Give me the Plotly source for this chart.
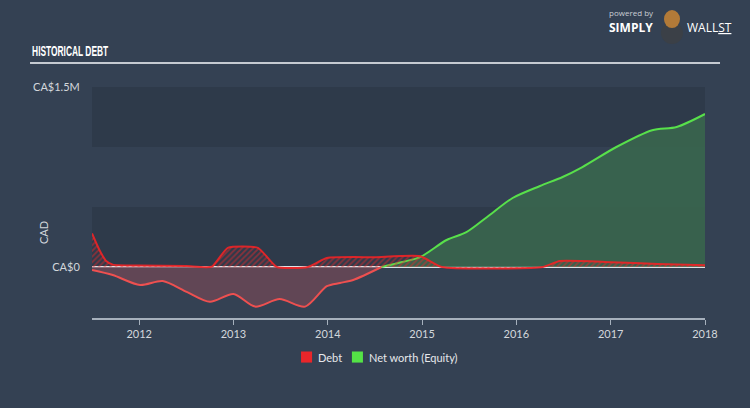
import plotly.graph_objects as go

# ---- data (values in CAD) ----
debt_years = [2011.5, 2011.58, 2011.65, 2011.72, 2012.0, 2012.5, 2012.77, 2012.94, 2013.26, 2013.46,
              2013.79, 2013.99, 2014.5, 2014.98, 2015.21, 2016.28, 2016.46, 2017.0, 2017.5, 2018.0]
debt_values = [280000, 140000, 50000, 20000, 12000, 8000, 3000, 160000, 160000, 0,
               0, 75000, 82000, 90000, 0, 0, 50000, 40000, 25000, 15000]

equity_years = [2011.5, 2011.72, 2012.01, 2012.25, 2012.51, 2012.75, 2013.0, 2013.23, 2013.49, 2013.76,
                2013.99, 2014.13, 2014.27, 2014.57, 2014.79, 2014.98, 2015.26, 2015.47, 2015.69, 2015.96,
                2016.25, 2016.49, 2016.70, 2017.06, 2017.44, 2017.70, 2018.0]
equity_values = [-25000, -67000, -150000, -117000, -210000, -290000, -225000, -330000, -267000, -330000,
                 -160000, -133000, -108000, 0, 42000, 83000, 225000, 290000, 417000, 575000,
                 675000, 750000, 833000, 1000000, 1140000, 1167000, 1275000]

x_tick_vals = [2012, 2013, 2014, 2015, 2016, 2017, 2018]
x_tick_text = ["2012", "2013", "2014", "2015", "2016", "2017", "2018"]
y_tick_vals = [0, 1500000]
y_tick_text = ["CA$0", "CA$1.5M"]

BG = "#344153"
BAND = "#2e3a4a"
TXT = "#d3d7dc"
FONT = "Lato, Open Sans, sans-serif"

# split equity at zero crossing
zi = equity_values.index(0)
neg_x, neg_y = equity_years[:zi + 1], equity_values[:zi + 1]
pos_x, pos_y = equity_years[zi:], equity_values[zi:]

fig = go.Figure()

fig.add_trace(go.Scatter(
    x=neg_x, y=neg_y, mode="lines", fill="tozeroy",
    fillcolor="rgba(112,72,86,0.75)",
    line=dict(color="#ee5050", width=2, shape="spline", smoothing=0.8),
    showlegend=False, hoverinfo="skip"))
fig.add_trace(go.Scatter(
    x=pos_x, y=pos_y, mode="lines", fill="tozeroy",
    fillcolor="rgba(58,104,78,0.85)",
    line=dict(color="#58e04b", width=2, shape="spline", smoothing=0.8),
    showlegend=False, hoverinfo="skip"))
fig.add_trace(go.Scatter(
    x=debt_years, y=debt_values, mode="lines", fill="tozeroy",
    fillcolor="rgba(0,0,0,0)",
    fillpattern=dict(shape="/", fgcolor="rgba(236,40,42,0.95)", size=4, solidity=0.45),
    line=dict(color="rgba(240,36,38,0.9)", width=2, shape="spline", smoothing=0.5),
    showlegend=False, hoverinfo="skip"))

shapes = [
    dict(type="rect", xref="paper", yref="y", x0=0, x1=1, y0=0, y1=500000,
         fillcolor=BAND, line=dict(width=0), layer="below"),
    dict(type="rect", xref="paper", yref="y", x0=0, x1=1, y0=1000000, y1=1500000,
         fillcolor=BAND, line=dict(width=0), layer="below"),
    # title underline
    dict(type="line", xref="paper", yref="paper", x0=-0.1011, x1=1.0245, y0=1.104, y1=1.104,
         line=dict(color="#c5cad1", width=2)),
    # legend squares
    dict(type="rect", xref="paper", yref="paper", x0=0.341, x1=0.359, y0=-0.145, y1=-0.193,
         fillcolor="#e8262a", line=dict(width=0)),
    dict(type="rect", xref="paper", yref="paper", x0=0.424, x1=0.442, y0=-0.145, y1=-0.193,
         fillcolor="#54e346", line=dict(width=0)),
    # logo mascot (simplified)
    dict(type="circle", xref="paper", yref="paper", x0=0.9282, x1=0.9641, y0=1.186, y1=1.281,
         fillcolor="#3b4047", line=dict(width=0)),
    dict(type="circle", xref="paper", yref="paper", x0=0.9331, x1=0.9592, y0=1.255, y1=1.333,
         fillcolor="#b27a38", line=dict(width=0)),
]

annotations = [
    dict(text="<b>HISTORICAL DEBT</b>", xref="paper", yref="paper", x=-0.101, y=1.158,
         xanchor="left", yanchor="middle", showarrow=False,
         font=dict(family="Liberation Sans, Arial, sans-serif", size=15, color="#ffffff")),
    dict(text="CAD", xref="paper", yref="paper", x=-0.08, y=0.372, textangle=-90,
         xanchor="center", yanchor="middle", showarrow=False, font=dict(family=FONT, size=11, color=TXT)),
    dict(text="Debt", xref="paper", yref="paper", x=0.366, y=-0.169, xanchor="left", yanchor="middle",
         showarrow=False, font=dict(family=FONT, size=11, color="#e6e8eb")),
    dict(text="Net worth (Equity)", xref="paper", yref="paper", x=0.448, y=-0.169, xanchor="left",
         yanchor="middle", showarrow=False, font=dict(family=FONT, size=11, color="#e6e8eb")),
    dict(text="powered by", xref="paper", yref="paper", x=0.8405, y=1.3225, xanchor="left", yanchor="middle",
         showarrow=False, font=dict(family="Open Sans, sans-serif", size=8, color="#c9ced4")),
    dict(text="<b>SIMPLY</b>", xref="paper", yref="paper", x=0.8395, y=1.259, xanchor="left", yanchor="middle",
         showarrow=False, font=dict(family="Open Sans, sans-serif", size=12, color="#ffffff")),
    dict(text="WALL<u>ST</u>", xref="paper", yref="paper", x=0.968, y=1.259, xanchor="left", yanchor="middle",
         showarrow=False, font=dict(family="Open Sans, sans-serif", size=12, color="#ffffff")),
]

fig.update_layout(
    width=750, height=408,
    margin=dict(l=92, r=45, t=87, b=90),
    paper_bgcolor=BG, plot_bgcolor=BG,
    shapes=shapes, annotations=annotations, showlegend=False,
    xaxis=dict(range=[2011.5, 2018.0], tickvals=x_tick_vals, ticktext=x_tick_text,
               showgrid=False, zeroline=False, showline=True, linecolor="#a6b0bc", linewidth=1.5,
               ticks="outside", ticklen=5, tickcolor="#a6b0bc",
               tickfont=dict(family=FONT, size=11, color=TXT), fixedrange=True),
    yaxis=dict(range=[-425000, 1500000], tickvals=y_tick_vals, ticktext=y_tick_text,
               showgrid=False, zeroline=True, zerolinecolor="#dfe2e6", zerolinewidth=1.5,
               ticks="outside", ticklen=9, tickcolor="rgba(0,0,0,0)",
               tickfont=dict(family=FONT, size=11, color=TXT), fixedrange=True),
)

# condense the title horizontally (the original uses a condensed display face)
post_js = """
document.querySelectorAll('.annotation-text').forEach(function(el){
  if (el.textContent.indexOf('HISTORICAL') >= 0) {
    el.style.transformBox = 'fill-box';
    el.style.transformOrigin = 'left center';
    el.style.transform = 'scaleX(0.56)';
  }
});
"""

fig.write_html("out.html", post_script=post_js)
